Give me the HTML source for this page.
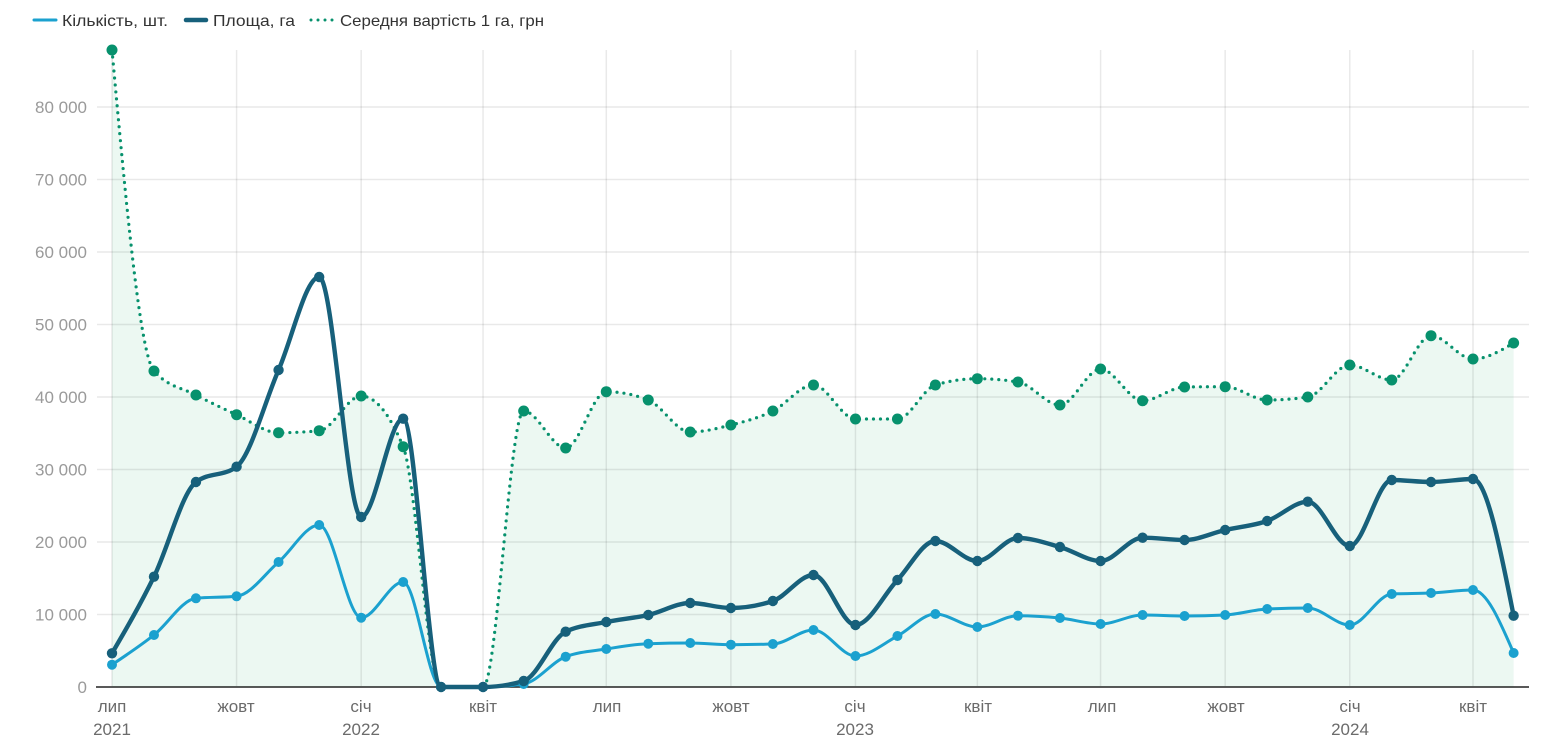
<!DOCTYPE html>
<html>
<head>
<meta charset="utf-8">
<style>
html,body{margin:0;padding:0;background:#fff;}
svg{display:block;font-family:"Liberation Sans",Arial,sans-serif;}
</style>
</head>
<body>
<svg id="c" width="1555" height="751" viewBox="0 0 1555 751" xmlns="http://www.w3.org/2000/svg">
  <rect width="1555" height="751" fill="#fff"/>
  <g id="fill"></g>
  <g id="grid"></g>
  <line x1="96" y1="687" x2="1529" y2="687" stroke="#222" stroke-width="1.5"/>
  <g id="lines"></g>
  <g id="pts"></g>

  <!-- Y labels -->
  <g font-size="17" fill="#9a9a9a" text-anchor="end">
    <text x="87" y="693">0</text>
    <text x="87" y="620.5">10 000</text>
    <text x="87" y="548">20 000</text>
    <text x="87" y="475.5">30 000</text>
    <text x="87" y="403">40 000</text>
    <text x="87" y="330.5">50 000</text>
    <text x="87" y="258">60 000</text>
    <text x="87" y="185.5">70 000</text>
    <text x="87" y="113">80 000</text>
  </g>

  <!-- X labels -->
  <g font-size="17" fill="#6b6b6b" text-anchor="middle">
    <text x="112" y="712">лип</text>
    <text x="112" y="735">2021</text>
    <text x="236" y="712">жовт</text>
    <text x="361" y="712">січ</text>
    <text x="361" y="735">2022</text>
    <text x="483" y="712">квіт</text>
    <text x="607" y="712">лип</text>
    <text x="731" y="712">жовт</text>
    <text x="855" y="712">січ</text>
    <text x="855" y="735">2023</text>
    <text x="978" y="712">квіт</text>
    <text x="1102" y="712">лип</text>
    <text x="1226" y="712">жовт</text>
    <text x="1350" y="712">січ</text>
    <text x="1350" y="735">2024</text>
    <text x="1473" y="712">квіт</text>
  </g>

  <!-- Legend -->
  <line x1="34" y1="20" x2="56" y2="20" stroke="#1ba1cf" stroke-width="3" stroke-linecap="round"/>
  <text x="62" y="26" font-size="16" fill="#333" textLength="106" lengthAdjust="spacingAndGlyphs">Кількість, шт.</text>
  <line x1="186" y1="20" x2="206" y2="20" stroke="#17607b" stroke-width="4.5" stroke-linecap="round"/>
  <text x="213" y="26" font-size="16" fill="#333" textLength="82" lengthAdjust="spacingAndGlyphs">Площа, га</text>
  <line x1="311" y1="20" x2="334" y2="20" stroke="#07916d" stroke-width="3" stroke-linecap="round" stroke-dasharray="0 7"/>
  <text x="340" y="26" font-size="16" fill="#333" textLength="204" lengthAdjust="spacingAndGlyphs">Середня вартість 1 га, грн</text>
</svg>
<script>
(function(){
  var NS="http://www.w3.org/2000/svg";
  function el(tag,attrs,parent){var e=document.createElementNS(NS,tag);for(var k in attrs)e.setAttribute(k,attrs[k]);parent.appendChild(e);return e;}
  var base=Date.UTC(2021,6,1);
  function xOf(y,m){return 112+((Date.UTC(y,m,1)-base)/86400000)*1361/1005;}
  var xs=[];
  for(var i=0;i<35;i++){var mm=6+i;xs.push(xOf(2021+Math.floor(mm/12),mm%12));}
  var green=[50,371,395,414.7,432.7,430.7,396,446.7,687,687,411,448,391.7,400,432,425,411,385,419,419,385,378.7,382,405,369,400.7,387,386.7,400,397,365,380,335.7,359,343];
  var dark=[653.3,576.7,482,466.7,370,277,517,418.7,687,687,681,631.7,622,615,603,608,601,575,625,580,541,561,538,547,561,537.7,540,530,521,501.7,546,480,482,479,615.7];
  var light=[664.7,635,598.3,596.3,562,525,617.7,582,687,687,684,656.7,649,643.7,643,644.7,644,630,656,636,614,627,615.7,618,624,615,616,615,609,608,625,594,593,590,653];
  function sign(x){return x<0?-1:1;}
  function path(ys){
    var n=ys.length,t=new Array(n),s=[];
    for(var i=0;i<n-1;i++)s.push((ys[i+1]-ys[i])/(xs[i+1]-xs[i]));
    for(var i=1;i<n-1;i++){
      var h0=xs[i]-xs[i-1],h1=xs[i+1]-xs[i],s0=s[i-1],s1=s[i],p=(s0*h1+s1*h0)/(h0+h1);
      t[i]=(sign(s0)+sign(s1))*Math.min(Math.abs(s0),Math.abs(s1),0.5*Math.abs(p))||0;
    }
    t[0]=(3*s[0]-t[1])/2;
    t[n-1]=(3*s[n-2]-t[n-2])/2;
    var d="M"+xs[0]+","+ys[0];
    for(var i=0;i<n-1;i++){
      var dx=(xs[i+1]-xs[i])/3;
      d+="C"+(xs[i]+dx)+","+(ys[i]+dx*t[i])+","+(xs[i+1]-dx)+","+(ys[i+1]-dx*t[i+1])+","+xs[i+1]+","+ys[i+1];
    }
    return d;
  }
  var fillG=document.getElementById("fill"),grid=document.getElementById("grid"),lines=document.getElementById("lines"),pts=document.getElementById("pts");
  var gp=path(green);
  el("path",{d:gp+"L"+xs[34]+",687L"+xs[0]+",687Z",fill:"#ecf8f2"},fillG);
  for(var k=1;k<=8;k++){var y=687-72.5*k;el("line",{x1:97,y1:y,x2:1529,y2:y,stroke:"rgba(0,0,0,0.085)","stroke-width":1.5},grid);}
  var vx=[[2021,6],[2021,9],[2022,0],[2022,3],[2022,6],[2022,9],[2023,0],[2023,3],[2023,6],[2023,9],[2024,0],[2024,3]];
  vx.forEach(function(a){var x=xOf(a[0],a[1]);el("line",{x1:x,y1:50,x2:x,y2:686,stroke:"rgba(0,0,0,0.085)","stroke-width":1.5},grid);});
  el("path",{d:gp,fill:"none",stroke:"#07916d","stroke-width":3.2,"stroke-linecap":"round","stroke-dasharray":"0 7"},lines);
  el("path",{d:path(light),fill:"none",stroke:"#1ba1cf","stroke-width":3,"stroke-linejoin":"round"},lines);
  el("path",{d:path(dark),fill:"none",stroke:"#17607b","stroke-width":4.4,"stroke-linejoin":"round"},lines);
  for(var i=0;i<35;i++){ if(i!==8&&i!==9) el("circle",{cx:xs[i],cy:green[i],r:5.5,fill:"#07916d"},pts);}
  for(var i=0;i<35;i++) el("circle",{cx:xs[i],cy:light[i],r:5,fill:"#1ba1cf"},pts);
  for(var i=0;i<35;i++) el("circle",{cx:xs[i],cy:dark[i],r:5.2,fill:"#17607b"},pts);
})();
</script>
</body>
</html>
